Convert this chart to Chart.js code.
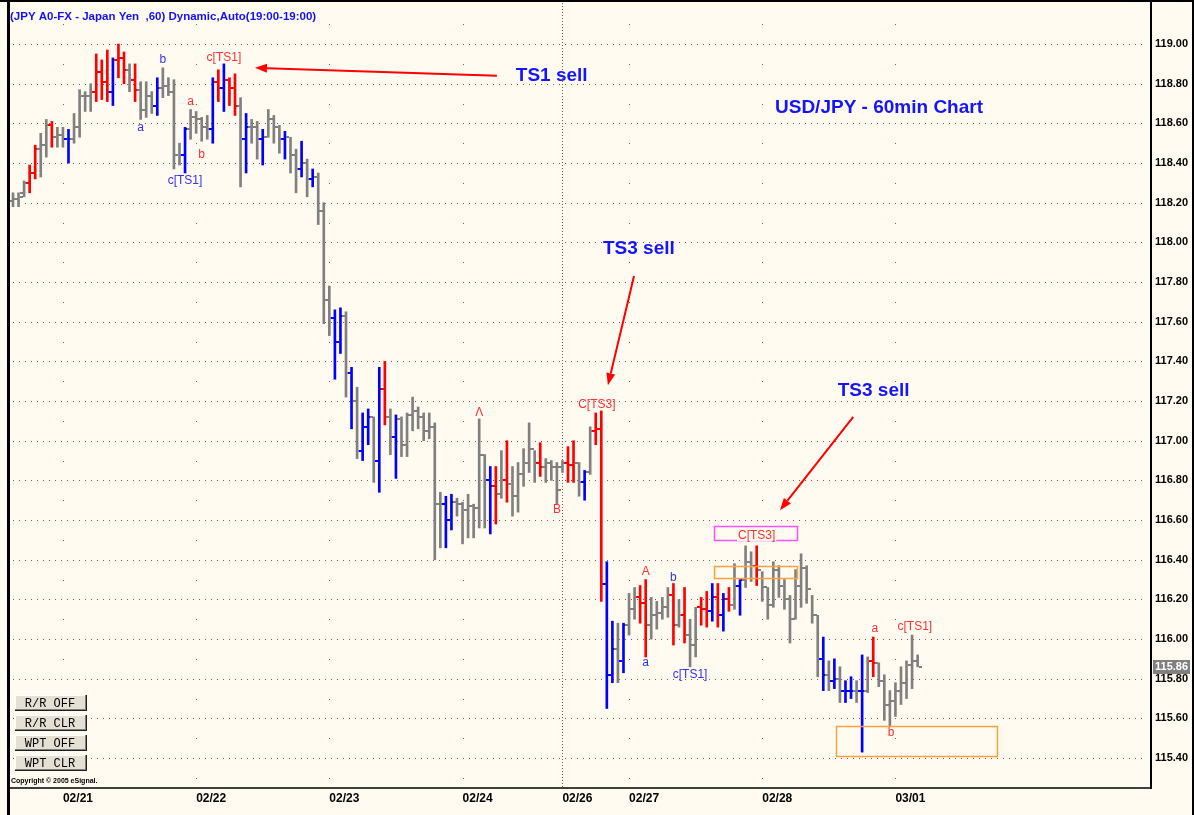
<!DOCTYPE html>
<html><head><meta charset="utf-8">
<script src="https://cdn.jsdelivr.net/npm/chart.js@4.4.1/dist/chart.umd.min.js"></script>
<style>
html,body{margin:0;padding:0;background:#fffbf0;}
canvas{display:block;}
</style></head><body>
<canvas id="c" width="1194" height="815"></canvas>
<script>
// ---------- DATA ----------
const dateTicks  = [9, 33, 57, 81, 99, 111, 135, 159];
const dateLabels = ['02/21','02/22','02/23','02/24','02/26','02/27','02/28','03/01'];
const weekStart  = 99;
const priceTicks = [115.40,115.60,115.80,116.00,116.20,116.40,116.60,116.80,117.00,117.20,117.40,117.60,117.80,118.00,118.20,118.40,118.60,118.80,119.00];
const lastPrice  = 115.86;

const highs = [118.25,118.25,118.31,118.39,118.49,118.55,118.62,118.61,118.58,118.58,
118.57,118.65,118.77,118.76,118.80,118.95,118.92,118.97,118.93,119.00,
118.96,118.90,118.90,118.81,118.81,118.76,118.83,118.88,118.83,118.82,
118.50,118.58,118.67,118.66,118.63,118.64,118.83,118.87,118.90,118.83,
118.85,118.73,118.65,118.62,118.61,118.57,118.67,118.64,118.59,118.56,
118.53,118.47,118.51,118.42,118.37,118.35,118.20,117.78,117.66,117.67,
117.65,117.37,117.27,117.14,117.16,117.12,117.37,117.40,117.16,117.13,
117.12,117.14,117.22,117.17,117.14,117.14,117.09,116.74,116.72,116.73,
116.71,116.69,116.73,116.68,117.11,116.93,116.87,116.87,116.95,117.00,
116.87,116.89,116.96,117.09,116.95,116.99,116.91,116.90,116.89,116.90,
116.97,117.00,116.89,116.85,117.07,117.14,117.15,116.39,116.09,116.08,
116.08,116.23,116.26,116.27,116.30,116.21,116.19,116.21,116.26,116.28,
116.20,116.26,116.10,116.16,116.21,116.24,116.28,116.28,116.23,116.26,
116.38,116.30,116.47,116.44,116.47,116.34,116.26,116.39,116.37,116.30,
116.22,116.35,116.43,116.37,116.22,116.12,116.01,115.89,115.90,115.86,
115.79,115.81,115.79,115.92,115.91,116.01,115.88,115.82,115.74,115.78,
115.86,115.89,116.02,115.92];

const lows = [118.18,118.18,118.23,118.25,118.32,118.33,118.43,118.48,118.48,118.48,
118.40,118.50,118.53,118.66,118.66,118.71,118.72,118.71,118.69,118.83,
118.80,118.76,118.71,118.62,118.63,118.65,118.64,118.73,118.74,118.37,
118.39,118.35,118.52,118.55,118.51,118.52,118.50,118.71,118.66,118.69,
118.64,118.28,118.35,118.50,118.42,118.39,118.53,118.50,118.45,118.42,
118.35,118.25,118.33,118.23,118.28,118.09,117.59,117.53,117.31,117.44,
117.22,117.06,116.91,116.90,116.98,116.79,116.74,117.08,116.93,116.81,
116.92,116.92,117.05,117.06,117.00,117.01,116.40,116.46,116.46,116.55,
116.62,116.48,116.51,116.51,116.56,116.56,116.53,116.58,116.71,116.69,
116.62,116.64,116.77,116.84,116.79,116.82,116.79,116.80,116.68,116.84,
116.79,116.79,116.72,116.70,116.83,116.98,116.19,115.65,115.78,115.78,
115.83,116.02,116.10,116.08,115.91,116.00,116.05,116.10,116.11,115.97,
116.06,115.98,115.86,115.91,116.07,116.06,116.09,116.06,116.04,116.14,
116.15,116.12,116.26,116.29,116.27,116.19,116.10,116.16,116.21,116.15,
115.98,116.10,116.16,116.18,116.08,115.81,115.74,115.74,115.75,115.68,
115.68,115.70,115.68,115.43,115.73,115.81,115.76,115.59,115.56,115.61,
115.67,115.70,115.75,115.86];

const opens = [118.21,118.22,118.25,118.30,118.35,118.47,118.49,118.59,118.53,118.54,
118.52,118.52,118.58,118.74,118.74,118.76,118.86,118.81,118.76,118.92,
118.93,118.87,118.82,118.77,118.67,118.74,118.69,118.78,118.79,118.76,
118.44,118.44,118.57,118.63,118.62,118.58,118.57,118.81,118.78,118.82,
118.78,118.69,118.52,118.58,118.58,118.52,118.53,118.62,118.58,118.52,
118.53,118.44,118.37,118.40,118.32,118.33,118.16,117.71,117.62,117.50,
117.63,117.34,117.20,116.95,117.07,117.12,116.90,117.26,117.12,117.02,
117.11,116.98,117.13,117.15,117.12,117.05,117.07,116.68,116.68,116.60,
116.69,116.68,116.65,116.67,116.66,116.93,116.80,116.77,116.73,116.80,
116.78,116.72,116.83,116.89,116.96,116.89,116.87,116.89,116.87,116.87,
116.89,116.88,116.89,116.79,116.84,117.05,117.06,116.28,115.82,115.95,
115.89,116.07,116.15,116.21,116.18,116.07,116.12,116.13,116.16,116.22,
116.07,116.12,116.02,115.97,116.16,116.15,116.14,116.21,116.12,116.20,
116.17,116.27,116.30,116.39,116.37,116.35,116.26,116.17,116.35,116.27,
116.20,116.10,116.27,116.36,116.25,116.12,115.90,115.82,115.79,115.80,
115.74,115.74,115.74,115.74,115.74,115.89,115.88,115.79,115.67,115.69,
115.74,115.78,115.87,115.89];

const closes = [118.22,118.23,118.30,118.35,118.47,118.49,118.59,118.53,118.54,118.52,
118.52,118.58,118.74,118.74,118.76,118.86,118.81,118.76,118.92,118.93,
118.87,118.82,118.77,118.67,118.74,118.69,118.78,118.79,118.76,118.44,
118.44,118.57,118.63,118.62,118.58,118.57,118.81,118.78,118.82,118.78,
118.69,118.52,118.58,118.58,118.52,118.53,118.62,118.58,118.52,118.53,
118.44,118.37,118.40,118.32,118.33,118.16,117.71,117.62,117.50,117.63,
117.34,117.20,116.95,117.07,117.12,116.90,117.26,117.12,117.02,117.11,
116.98,117.13,117.15,117.12,117.05,117.07,116.68,116.68,116.60,116.69,
116.68,116.65,116.67,116.66,116.93,116.80,116.77,116.73,116.80,116.78,
116.72,116.83,116.89,116.96,116.89,116.87,116.89,116.87,116.75,116.89,
116.88,116.89,116.79,116.84,117.05,117.06,116.28,115.82,115.95,115.89,
116.07,116.15,116.21,116.18,116.07,116.12,116.13,116.16,116.22,116.07,
116.12,116.02,115.97,116.16,116.15,116.14,116.21,116.12,116.20,116.17,
116.27,116.30,116.39,116.37,116.35,116.26,116.17,116.35,116.27,116.20,
116.10,116.27,116.36,116.25,116.12,115.90,115.82,115.79,115.80,115.74,
115.74,115.74,115.74,115.74,115.89,115.88,115.79,115.67,115.69,115.74,
115.78,115.87,115.89,115.86];

// bar signal colour: g = neutral, r = sell signal, b = buy signal
const signals = ("gggrrggrgg"+"bggggrrrbr"+"rgrgggbggg"+"gbggggbrbr"+"rgbggbgggb"+
                 "ggbgbgggbb"+"gbgbbgbrgb"+"ggggggggbb"+"ggggggbrgr"+"gggggrgggg"+
                 "rrgbgrrbbg"+"bggrrggggr"+"grggrrbrbr"+"gbggrggggg"+"ggggggbgbg"+
                 "bbgbgrgggg"+"gggg").split('');

// labels on the chart: [text, bar index, price, colour]
const waveLabels = [
 ['b',27,118.92,'b'],['a',23,118.58,'b'],['c[TS1]',31,118.31,'b'],
 ['a',32,118.71,'r'],['b',34,118.44,'r'],['c[TS1]',38,118.93,'r'],
 ['\u039B',84,117.14,'r'],['B',98,116.65,'r'],['C[TS3]',105.2,117.18,'r'],
 ['A',114,116.34,'r'],['a',114,115.88,'b'],['b',119,116.31,'b'],['c[TS1]',122,115.82,'b'],
 ['a',155.3,116.05,'r'],['c[TS1]',162.5,116.06,'r'],['b',158.2,115.53,'r']
];
const boxLabel = ['C[TS3]',134,116.52];
// big captions: [text, bar index (left), price]
const captions = [
 ['TS1 sell',90.6,118.84],['USD/JPY - 60min Chart',137.3,118.68],
 ['TS3 sell',106.3,117.97],['TS3 sell',148.6,117.25]
];
// arrows: [from index, from price, to index, to price]
const arrows = [[87.2,118.84,43.6,118.88],[111.9,117.83,107.2,117.28],[151.4,117.12,138.2,116.65]];
// boxes: [index1, index2, priceTop, priceBottom, colour]
const boxes = [[126.3,141.3,116.57,116.50,'#ff50ff'],[126.3,141.3,116.37,116.31,'#ffa040'],[148.3,177.3,115.56,115.41,'#ffa040']];
const buttons = ['R/R OFF','R/R CLR','WPT OFF','WPT CLR'];

// ---------- DRAWING ----------
const COL = {g:'#808080', r:'#ff0000', b:'#0000ff'};
const LBL = {r:'#ff3030', b:'#3030ff'};
const BG = '#fffbf0';
const GRID = '#a04848';

const chartPlugin = {
  id:'ohlcDecor',
  beforeDraw(chart){
    const {ctx, chartArea:a, scales:{x, y}} = chart;
    ctx.save();
    ctx.fillStyle = BG; ctx.fillRect(0,0,chart.width,chart.height);
    ctx.fillStyle = GRID;
    priceTicks.forEach(p=>{
      const py = Math.round(y.getPixelForValue(p));
      for (let px=a.left+3; px<a.right-5; px+=6) ctx.fillRect(px,py,1,1);
    });
    const mids = priceTicks.map(p=>p+0.1).concat([priceTicks[0]-0.1]);
    dateTicks.forEach(d=>{
      const px = Math.round(x.getPixelForValue(d));
      if (d === weekStart) {
        for (let py=a.top; py<a.bottom; py+=3) ctx.fillRect(px,py,1,1);
      } else {
        mids.forEach(p=>ctx.fillRect(px, Math.round(y.getPixelForValue(p)),1,1));
      }
    });
    ctx.restore();
  },
  afterDatasetsDraw(chart){
    const {ctx, scales:{x, y}} = chart;
    ctx.save();
    // open / close ticks
    opens.forEach((o,i)=>{
      const px = Math.round(x.getPixelForValue(i));
      ctx.fillStyle = COL[signals[i]];
      ctx.fillRect(px-4, Math.round(y.getPixelForValue(o))-1, 3, 2);
      ctx.fillRect(px+1, Math.round(y.getPixelForValue(closes[i]))-1, 3, 2);
    });
    // boxes
    boxes.forEach(([i1,i2,pt,pb,c])=>{
      const x1=Math.round(x.getPixelForValue(i1)), x2=Math.round(x.getPixelForValue(i2));
      const y1=Math.round(y.getPixelForValue(pt)), y2=Math.round(y.getPixelForValue(pb));
      ctx.strokeStyle=c; ctx.lineWidth=1.5;
      ctx.strokeRect(x1+0.5,y1+0.5,x2-x1,y2-y1);
    });
    // small wave labels
    ctx.font = '12px "Liberation Sans", Arial, sans-serif';
    ctx.textAlign='center'; ctx.textBaseline='middle';
    waveLabels.forEach(([t,i,p,c])=>{
      ctx.fillStyle = LBL[c];
      ctx.fillText(t, x.getPixelForValue(i), y.getPixelForValue(p));
    });
    {
      const [t,i,p] = boxLabel;
      const bx = x.getPixelForValue(i), by = y.getPixelForValue(p);
      const w = ctx.measureText(t).width;
      ctx.fillStyle = BG; ctx.fillRect(bx-w/2-1, by-4, w+2, 9);
      ctx.fillStyle = LBL.r; ctx.fillText(t, bx, by);
    }
    // arrows
    ctx.strokeStyle='#ff0000'; ctx.fillStyle='#ff0000'; ctx.lineWidth=2;
    arrows.forEach(([i1,p1,i2,p2])=>{
      const x1=x.getPixelForValue(i1), y1=y.getPixelForValue(p1);
      const x2=x.getPixelForValue(i2), y2=y.getPixelForValue(p2);
      const ang = Math.atan2(y2-y1, x2-x1);
      const L = 12, W = 4.5;
      const bx = x2 - L*Math.cos(ang), by = y2 - L*Math.sin(ang);
      ctx.beginPath(); ctx.moveTo(x1,y1); ctx.lineTo(bx,by); ctx.stroke();
      ctx.beginPath(); ctx.moveTo(x2,y2);
      ctx.lineTo(bx + W*Math.sin(ang), by - W*Math.cos(ang));
      ctx.lineTo(bx - W*Math.sin(ang), by + W*Math.cos(ang));
      ctx.closePath(); ctx.fill();
    });
    // captions
    ctx.font = 'bold 19px "Liberation Sans", Arial, sans-serif';
    ctx.textAlign='left'; ctx.fillStyle='#1414ff';
    captions.forEach(([t,i,p])=>ctx.fillText(t, x.getPixelForValue(i), y.getPixelForValue(p)));
    ctx.restore();
  },
  afterDraw(chart){
    const {ctx, chartArea:a, scales:{y}} = chart;
    ctx.save();
    // frame
    ctx.fillStyle='#000';
    ctx.fillRect(0,0,chart.width,2);
    ctx.fillRect(7,0,3,chart.height);
    ctx.fillRect(chart.width-2,0,2,chart.height);
    // header
    ctx.font='bold 11.5px "Liberation Sans", Arial, sans-serif';
    ctx.fillStyle='#1010ff'; ctx.textAlign='left'; ctx.textBaseline='middle';
    ctx.fillText('(JPY A0-FX - Japan Yen  ,60) Dynamic,Auto(19:00-19:00)', 10, 17);
    // buttons
    buttons.forEach((t,k)=>{
      const bx=15, by=695+k*20, bw=72, bh=16;
      ctx.fillStyle='#e4e0d4'; ctx.fillRect(bx,by,bw,bh);
      ctx.fillStyle='#ffffff'; ctx.fillRect(bx,by,bw,1); ctx.fillRect(bx,by,1,bh);
      ctx.fillStyle='#808080'; ctx.fillRect(bx,by+bh-2,bw,1); ctx.fillRect(bx+bw-2,by,1,bh);
      ctx.fillStyle='#202020'; ctx.fillRect(bx,by+bh-1,bw,1); ctx.fillRect(bx+bw-1,by,1,bh);
      ctx.fillStyle='#000'; ctx.font='12px "Liberation Mono", "Courier New", monospace';
      ctx.textAlign='center'; ctx.fillText(t, bx+bw/2-1, by+bh/2+1);
    });
    // copyright
    ctx.font='bold 7px "Liberation Sans", Arial, sans-serif';
    ctx.textAlign='left'; ctx.fillStyle='#000';
    ctx.fillText('Copyright \u00A9 2005 eSignal.', 11, 781);
    // last price marker
    const ly = Math.round(y.getPixelForValue(lastPrice));
    ctx.fillStyle='#808080'; ctx.fillRect(a.right+2, ly-7, 37, 14);
    ctx.fillStyle='#fff'; ctx.font='bold 11px "Liberation Sans", Arial, sans-serif';
    ctx.textAlign='left'; ctx.fillText(lastPrice.toFixed(2), a.right+4, ly);
    ctx.restore();
  }
};

new Chart(document.getElementById('c'), {
  type:'bar',
  data:{
    datasets:[{
      data: highs.map((h,i)=>({x:i, y:[lows[i], h]})),
      backgroundColor: signals.map(s=>COL[s]),
      barThickness: 2,
      borderWidth: 0,
      grouped: false
    }]
  },
  options:{
    responsive:false, animation:false, devicePixelRatio:1,
    layout:{padding:{left:10, top:3, right:0, bottom:0}},
    plugins:{legend:{display:false}, tooltip:{enabled:false}},
    scales:{
      x:{
        type:'linear', min:-0.54, max:205.05, offset:false,
        grid:{display:false, drawTicks:false},
        border:{display:true, color:'#404040', width:2},
        afterBuildTicks: s=>{ s.ticks = dateTicks.map(v=>({value:v})); },
        afterFit: s=>{ s.height = 27; s.paddingLeft = 0; s.paddingRight = 0; },
        ticks:{
          autoSkip:false, maxRotation:0, minRotation:0, align:'start', padding:3,
          color:'#000', font:{family:'Liberation Sans', size:12, weight:'bold'},
          callback:(v,i)=>dateLabels[i]
        }
      },
      y:{
        type:'linear', position:'right', min:115.249, max:119.207,
        grid:{display:false, drawTicks:false},
        border:{display:true, color:'#000', width:2},
        afterBuildTicks: s=>{ s.ticks = priceTicks.map(v=>({value:v})); },
        afterFit: s=>{ s.width = 43; s.paddingTop = 0; s.paddingBottom = 0; },
        ticks:{
          crossAlign:'near', padding:4, color:'#000',
          font:{family:'Liberation Sans', size:11, weight:'bold'},
          callback:v=>Number(v).toFixed(2)
        }
      }
    }
  },
  plugins:[chartPlugin]
});
</script>
</body></html>
